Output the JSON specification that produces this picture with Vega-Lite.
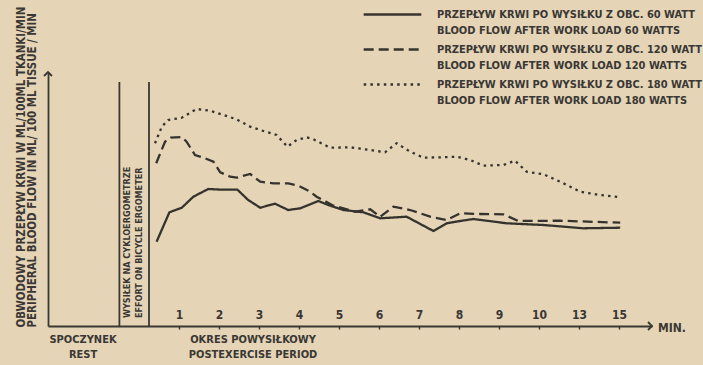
{
  "$schema": "https://vega.github.io/schema/vega-lite/v6.json",
  "width": 604,
  "height": 254,
  "autosize": {"type": "none"},
  "padding": {"left": 48, "top": 72, "right": 51, "bottom": 39},
  "background": "#e5d5b6",
  "config": {
    "view": {"stroke": null},
    "font": "DejaVu Sans Condensed",
    "text": {"font": "DejaVu Sans Condensed", "fontWeight": "bold", "color": "#3a3734"},
    "style": {"guide-label": {"lineHeight": 16}}
  },
  "datasets": {
    "flow": [
      {"load": 60, "t": 0.44, "flow": 84.3},
      {"load": 60, "t": 0.76, "flow": 113.7},
      {"load": 60, "t": 1.07, "flow": 118.3},
      {"load": 60, "t": 1.36, "flow": 129.3},
      {"load": 60, "t": 1.73, "flow": 137},
      {"load": 60, "t": 2.07, "flow": 136.3},
      {"load": 60, "t": 2.46, "flow": 136.3},
      {"load": 60, "t": 2.73, "flow": 126},
      {"load": 60, "t": 3.03, "flow": 118.3},
      {"load": 60, "t": 3.4, "flow": 122.3},
      {"load": 60, "t": 3.73, "flow": 116},
      {"load": 60, "t": 4.03, "flow": 117.7},
      {"load": 60, "t": 4.48, "flow": 125},
      {"load": 60, "t": 4.73, "flow": 121},
      {"load": 60, "t": 5.11, "flow": 116},
      {"load": 60, "t": 5.61, "flow": 113.7},
      {"load": 60, "t": 6.03, "flow": 107.7},
      {"load": 60, "t": 6.69, "flow": 109.3},
      {"load": 60, "t": 7.36, "flow": 95},
      {"load": 60, "t": 7.69, "flow": 102.7},
      {"load": 60, "t": 8.03, "flow": 105},
      {"load": 60, "t": 8.36, "flow": 107},
      {"load": 60, "t": 9.19, "flow": 102.7},
      {"load": 60, "t": 10.11, "flow": 101},
      {"load": 60, "t": 11.11, "flow": 97.7},
      {"load": 60, "t": 12.03, "flow": 98.3},
      {"load": 120, "t": 0.43, "flow": 162.7},
      {"load": 120, "t": 0.65, "flow": 184.3},
      {"load": 120, "t": 0.79, "flow": 188.3},
      {"load": 120, "t": 1.07, "flow": 189},
      {"load": 120, "t": 1.19, "flow": 184.3},
      {"load": 120, "t": 1.4, "flow": 171},
      {"load": 120, "t": 1.65, "flow": 167.7},
      {"load": 120, "t": 1.86, "flow": 164.3},
      {"load": 120, "t": 2.03, "flow": 153.7},
      {"load": 120, "t": 2.28, "flow": 149.3},
      {"load": 120, "t": 2.44, "flow": 148.3},
      {"load": 120, "t": 2.78, "flow": 152},
      {"load": 120, "t": 3.03, "flow": 144.3},
      {"load": 120, "t": 3.36, "flow": 142.7},
      {"load": 120, "t": 3.73, "flow": 142.7},
      {"load": 120, "t": 3.98, "flow": 140.3},
      {"load": 120, "t": 4.28, "flow": 134.3},
      {"load": 120, "t": 4.44, "flow": 129.3},
      {"load": 120, "t": 4.86, "flow": 120.3},
      {"load": 120, "t": 5.11, "flow": 117.7},
      {"load": 120, "t": 5.4, "flow": 114.3},
      {"load": 120, "t": 5.78, "flow": 116.7},
      {"load": 120, "t": 6.03, "flow": 109.3},
      {"load": 120, "t": 6.36, "flow": 119.3},
      {"load": 120, "t": 6.78, "flow": 116},
      {"load": 120, "t": 7.28, "flow": 109.3},
      {"load": 120, "t": 7.69, "flow": 106},
      {"load": 120, "t": 8.03, "flow": 112.7},
      {"load": 120, "t": 8.53, "flow": 112},
      {"load": 120, "t": 9.11, "flow": 111.7},
      {"load": 120, "t": 9.48, "flow": 105},
      {"load": 120, "t": 10.53, "flow": 105.3},
      {"load": 120, "t": 12.03, "flow": 103.3},
      {"load": 180, "t": 0.4, "flow": 182.7},
      {"load": 180, "t": 0.57, "flow": 199.3},
      {"load": 180, "t": 0.73, "flow": 206},
      {"load": 180, "t": 1.07, "flow": 208.3},
      {"load": 180, "t": 1.44, "flow": 217},
      {"load": 180, "t": 1.78, "flow": 215.3},
      {"load": 180, "t": 2.11, "flow": 211},
      {"load": 180, "t": 2.44, "flow": 206.7},
      {"load": 180, "t": 2.78, "flow": 199.3},
      {"load": 180, "t": 3.11, "flow": 195},
      {"load": 180, "t": 3.44, "flow": 191},
      {"load": 180, "t": 3.71, "flow": 179.3},
      {"load": 180, "t": 3.94, "flow": 186},
      {"load": 180, "t": 4.19, "flow": 188.7},
      {"load": 180, "t": 4.36, "flow": 186.7},
      {"load": 180, "t": 4.78, "flow": 178.3},
      {"load": 180, "t": 5.28, "flow": 178.7},
      {"load": 180, "t": 5.78, "flow": 176},
      {"load": 180, "t": 6.15, "flow": 173.7},
      {"load": 180, "t": 6.44, "flow": 182.7},
      {"load": 180, "t": 6.78, "flow": 174.3},
      {"load": 180, "t": 7.11, "flow": 168.3},
      {"load": 180, "t": 7.53, "flow": 168.7},
      {"load": 180, "t": 7.94, "flow": 169.3},
      {"load": 180, "t": 8.28, "flow": 166},
      {"load": 180, "t": 8.61, "flow": 160.3},
      {"load": 180, "t": 9.11, "flow": 161},
      {"load": 180, "t": 9.4, "flow": 165.3},
      {"load": 180, "t": 9.69, "flow": 154.3},
      {"load": 180, "t": 10.11, "flow": 151.7},
      {"load": 180, "t": 10.53, "flow": 144.3},
      {"load": 180, "t": 11.03, "flow": 134.3},
      {"load": 180, "t": 11.53, "flow": 131},
      {"load": 180, "t": 12.03, "flow": 128.7}
    ],
    "phases": [{"boundary": -0.49}, {"boundary": 0.25}],
    "one": [{}]
  },
  "resolve": {"scale": {"x": "shared", "y": "shared"}},
  "layer": [
    {
      "data": {"name": "flow"},
      "mark": {"type": "line", "strokeWidth": 2.3, "color": "#36332f", "clip": false},
      "encoding": {
        "x": {
          "field": "t", "type": "quantitative",
          "scale": {"domain": [-2.275, 12.825], "nice": false, "zero": false},
          "axis": {
            "values": [1, 2, 3, 4, 5, 6, 7, 8, 9, 10, 11, 12],
            "labelExpr": "datum.value == 11 ? '13' : datum.value == 12 ? '15' : datum.label",
            "title": null, "grid": false,
            "domainColor": "#3a3734", "domainWidth": 1.8,
            "tickColor": "#3a3734", "tickSize": 3, "tickWidth": 1.5,
            "labelBaseline": "bottom", "labelPadding": -8,
            "labelFont": "DejaVu Sans Condensed", "labelFontSize": 12, "labelFontWeight": "bold",
            "labelColor": "#3a3734", "labelFlush": false, "labelOverlap": false
          }
        },
        "y": {
          "field": "flow", "type": "quantitative",
          "scale": {"domain": [0, 254], "nice": false, "zero": false},
          "axis": {
            "ticks": false, "labels": false, "grid": false,
            "domainColor": "#3a3734", "domainWidth": 1.8,
            "title": ["OBWODOWY PRZEPŁYW KRWI W ML/100ML TKANKI/MIN", "PERIPHERAL BLOOD FLOW IN ML/ 100 ML TISSUE / MIN"],
            "titleAngle": 270, "titleAlign": "left", "titleBaseline": "middle",
            "titleX": -27, "titleY": 255,
            "titleFont": "DejaVu Sans Condensed", "titleFontSize": 11.4, "titleFontWeight": "bold",
            "titleLineHeight": 11, "titleColor": "#3a3734"
          }
        },
        "strokeDash": {
          "field": "load", "type": "nominal",
          "scale": {"domain": [60, 120, 180], "range": [[1, 0], [10, 5], [2.5, 4.2]]},
          "legend": {
            "orient": "none", "legendX": 337, "legendY": -65, "title": null, "padding": 0,
            "symbolType": "M-4.8,0H4.8", "symbolSize": 144, "symbolStrokeWidth": 2.3,
            "symbolStrokeColor": "#36332f",
            "labelExpr": "['PRZEPŁYW KRWI PO WYSIŁKU Z OBC. ' + datum.label + ' WATT', 'BLOOD FLOW AFTER WORK LOAD ' + datum.label + ' WATTS']",
            "labelFont": "DejaVu Sans Condensed", "labelFontSize": 11, "labelFontWeight": "bold",
            "labelLimit": 400, "labelOffset": 37, "labelColor": "#3a3734",
            "rowPadding": 6
          }
        }
      }
    },
    {
      "data": {"name": "phases"},
      "mark": {"type": "rule", "color": "#3a3734", "strokeWidth": 1.8},
      "encoding": {
        "x": {"field": "boundary", "type": "quantitative"},
        "y": {"datum": 0},
        "y2": {"datum": 244}
      }
    },
    {
      "data": {"name": "one"},
      "mark": {"type": "text", "angle": 270, "align": "left", "baseline": "middle", "fontSize": 9, "lineHeight": 12},
      "encoding": {
        "x": {"datum": -0.3},
        "y": {"datum": 8},
        "text": {"value": ["WYSIŁEK NA CYKLOERGOMETRZE", "EFFORT ON BICYCLE ERGOMETER"]}
      }
    },
    {
      "data": {"name": "one"},
      "mark": {"type": "text", "align": "center", "baseline": "middle", "fontSize": 11, "lineHeight": 15},
      "encoding": {
        "x": {"datum": -1.4},
        "y": {"datum": -14},
        "text": {"value": ["SPOCZYNEK", "REST"]}
      }
    },
    {
      "data": {"name": "one"},
      "mark": {"type": "text", "align": "center", "baseline": "middle", "fontSize": 11, "lineHeight": 15},
      "encoding": {
        "x": {"datum": 2.85},
        "y": {"datum": -14},
        "text": {"value": ["OKRES POWYSIŁKOWY", "POSTEXERCISE PERIOD"]}
      }
    },
    {
      "data": {"name": "one"},
      "mark": {"type": "text", "align": "left", "baseline": "middle", "fontSize": 12},
      "encoding": {
        "x": {"datum": 12.975},
        "y": {"datum": -2},
        "text": {"value": "MIN."}
      }
    },
    {
      "data": {"name": "one"},
      "mark": {"type": "point", "shape": "M-1,-1L0,0L-1,1", "size": 64, "filled": false, "color": "#3a3734", "strokeWidth": 1.8, "opacity": 1},
      "encoding": {
        "x": {"datum": 12.825},
        "y": {"datum": 0}
      }
    },
    {
      "data": {"name": "one"},
      "mark": {"type": "point", "shape": "M-1,1L0,0L1,1", "size": 64, "filled": false, "color": "#3a3734", "strokeWidth": 1.8, "opacity": 1},
      "encoding": {
        "x": {"datum": -2.275},
        "y": {"datum": 254}
      }
    }
  ]
}
